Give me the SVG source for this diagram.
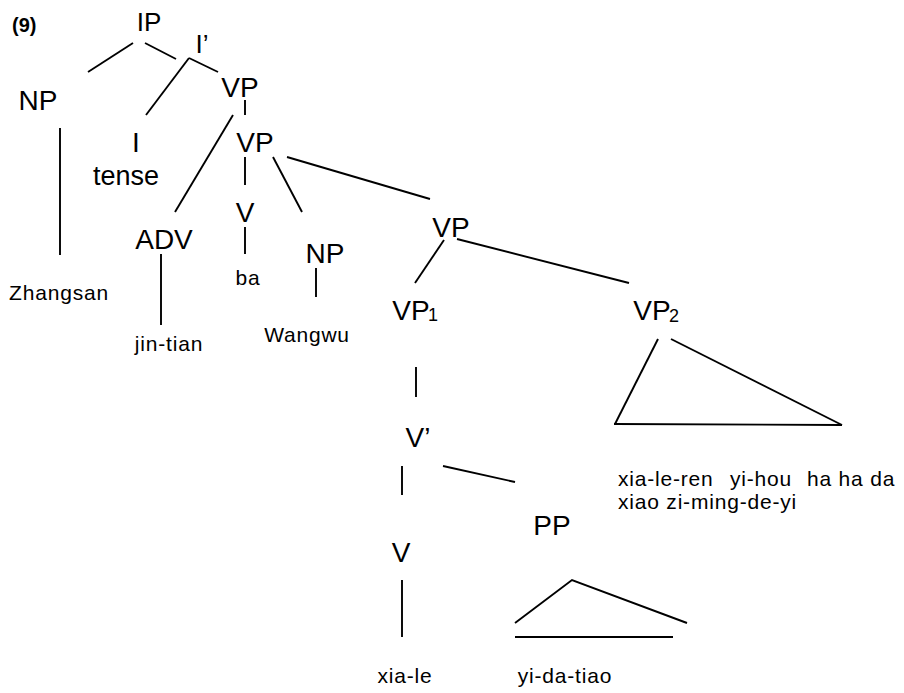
<svg xmlns="http://www.w3.org/2000/svg" width="904" height="693" viewBox="0 0 904 693">
  <style>
    .lbl { font-family: "Liberation Sans", Arial, sans-serif; font-size: 28px; fill: #000; text-anchor: middle; }
    .sm { font-size: 26px; }
    .sub { font-family: "Liberation Sans", Arial, sans-serif; font-size: 18px; fill: #000; }
    .word { font-family: "Liberation Sans", Arial, sans-serif; font-size: 21px; fill: #000; text-anchor: middle; letter-spacing: 0.8px; }
    .num { font-family: "Liberation Sans", Arial, sans-serif; font-size: 20px; font-weight: bold; fill: #000; }
    .edges line, .edges polyline { stroke: #000; stroke-width: 1.9; fill: none; stroke-linecap: butt; }
  </style>
  <rect width="904" height="693" fill="#fff"/>

  <text class="num" x="12" y="32">(9)</text>

  <g class="edges" id="connectors">
    <line x1="88" y1="72" x2="133" y2="43"/>
    <line x1="145" y1="43" x2="176" y2="59"/>
    <line x1="189" y1="58" x2="146" y2="115"/>
    <line x1="189" y1="58" x2="218" y2="72"/>
    <line x1="60" y1="128" x2="60" y2="255"/>
    <line x1="245" y1="100" x2="245" y2="115"/>
    <line x1="233" y1="115" x2="175" y2="212"/>
    <line x1="245" y1="157" x2="245" y2="185"/>
    <line x1="245" y1="227" x2="245" y2="254"/>
    <line x1="273" y1="157" x2="302" y2="212"/>
    <line x1="287" y1="157" x2="430" y2="199"/>
    <line x1="316" y1="268" x2="316" y2="297"/>
    <line x1="161" y1="254" x2="161" y2="325"/>
    <line x1="444" y1="240" x2="415" y2="283"/>
    <line x1="457" y1="239" x2="629" y2="283"/>
    <line x1="416" y1="367" x2="416" y2="397"/>
    <line x1="402" y1="466" x2="402" y2="495"/>
    <line x1="443" y1="466" x2="515" y2="482"/>
    <line x1="402" y1="580" x2="402" y2="637"/>
    <!-- VP2 triangle -->
    <line x1="658" y1="339" x2="615" y2="424"/>
    <line x1="671" y1="339" x2="842" y2="425"/>
    <line x1="614" y1="424" x2="842" y2="425"/>
    <!-- PP triangle -->
    <polyline points="515,623 572,580 687,623"/>
    <line x1="515" y1="637" x2="673" y2="637"/>
  </g>

  <g id="IP"><text class="lbl sm" x="149" y="31">IP</text></g>
  <g id="Ibar"><text class="lbl sm" x="202" y="53">I’</text></g>
  <g id="NP-subj"><text class="lbl" x="38" y="110">NP</text></g>
  <g id="Zhangsan"><text class="word" x="59" y="300">Zhangsan</text></g>
  <g id="I"><text class="lbl" x="136" y="152">I</text></g>
  <g id="tense"><text class="lbl" x="126" y="185" style="font-size:27px">tense</text></g>
  <g id="VP-top"><text class="lbl" x="240" y="97">VP</text></g>
  <g id="VP-mid"><text class="lbl" x="255" y="152">VP</text></g>
  <g id="ADV"><text class="lbl" x="164" y="249">ADV</text></g>
  <g id="jin-tian"><text class="word" x="169" y="351">jin-tian</text></g>
  <g id="V-ba"><text class="lbl" x="245" y="222">V</text></g>
  <g id="ba"><text class="word" x="248" y="285">ba</text></g>
  <g id="NP-obj"><text class="lbl" x="325" y="263">NP</text></g>
  <g id="Wangwu"><text class="word" x="307" y="342">Wangwu</text></g>
  <g id="VP-low"><text class="lbl" x="451" y="237">VP</text></g>
  <g id="VP1"><text class="lbl" x="411" y="320">VP</text><text class="sub" x="428" y="321">1</text></g>
  <g id="VP2"><text class="lbl" x="652" y="320">VP</text><text class="sub" x="669" y="322">2</text></g>
  <g id="VP2-words">
    <text class="word" style="text-anchor:start" y="486"><tspan x="618">xia-le-ren</tspan><tspan x="730">yi-hou</tspan><tspan x="807">ha ha da</tspan></text>
    <text class="word" style="text-anchor:start" x="618" y="509">xiao zi-ming-de-yi</text>
  </g>
  <g id="Vbar"><text class="lbl" x="418" y="447">V’</text></g>
  <g id="V-xiale"><text class="lbl" x="401" y="562">V</text></g>
  <g id="xia-le"><text class="word" x="405" y="683">xia-le</text></g>
  <g id="PP"><text class="lbl" x="552" y="535">PP</text></g>
  <g id="yi-da-tiao"><text class="word" x="565" y="683">yi-da-tiao</text></g>
</svg>
